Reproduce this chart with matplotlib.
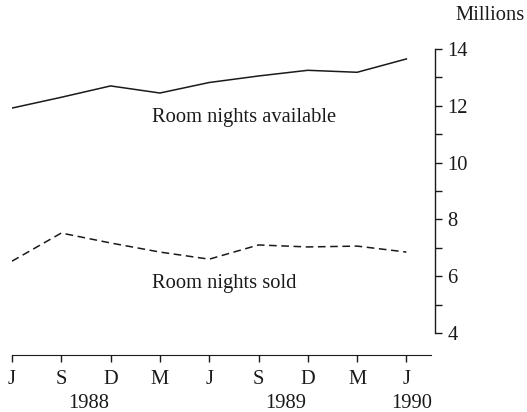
import numpy as np
import matplotlib.pyplot as plt

# quarterly points, Jun 1988 .. Jun 1990
months = ['J', 'S', 'D', 'M', 'J', 'S', 'D', 'M', 'J']
years = ['1988', '1989', '1990']
year_pos = [1.55, 5.55, 8.1]
available = [11.92, 12.3, 12.7, 12.45, 12.82, 13.05, 13.25, 13.18, 13.65]
sold = [6.53, 7.52, 7.17, 6.85, 6.6, 7.1, 7.03, 7.06, 6.85]

plt.rcParams['font.family'] = ['Liberation Serif', 'DejaVu Serif']
FS = 14.8
INK = '#1a1a1a'

fig = plt.figure(figsize=(5.27, 4.12), dpi=100)
ax = fig.add_axes([12 / 527, 79 / 412, 423 / 527, 284 / 412])

x = np.arange(len(months))
ax.plot(x, available, color=INK, lw=1.1)
ax.plot(x, sold, color=INK, lw=1.1, dashes=(5, 3))

ax.set_xlim(0, 8.58)
ax.set_ylim(4, 14)

for s in ['left', 'top']:
    ax.spines[s].set_visible(False)
ax.spines['right'].set_color(INK)
ax.spines['right'].set_linewidth(1.0)
ax.spines['bottom'].set_position(('outward', 16))
ax.spines['bottom'].set_bounds(0, 8.5)
ax.spines['bottom'].set_color(INK)

ax.yaxis.tick_right()
ax.set_yticks(range(4, 15))
ax.set_yticklabels([str(v) if v % 2 == 0 else '' for v in range(4, 15)])
ax.tick_params(axis='y', length=5, width=1.0, pad=4, labelsize=FS, colors=INK)

ax.set_xticks(x)
ax.set_xticklabels(months)
ax.tick_params(axis='x', length=5, width=1.0, pad=6, labelsize=FS, colors=INK)

for yr, p in zip(years, year_pos):
    ax.text(p, -0.215, yr, transform=ax.get_xaxis_transform(), ha='center',
            va='top', fontsize=FS, color=INK)

ax.text(4.7, 11.58, 'Room nights available', ha='center', va='center',
        fontsize=FS, color=INK)
ax.text(4.3, 5.75, 'Room nights sold', ha='center', va='center',
        fontsize=FS, color=INK)
fig.text(490 / 527, 1 - 15 / 412, 'Millions', ha='center', va='center',
         fontsize=FS, color=INK)

fig.savefig('out.png', dpi=100)
